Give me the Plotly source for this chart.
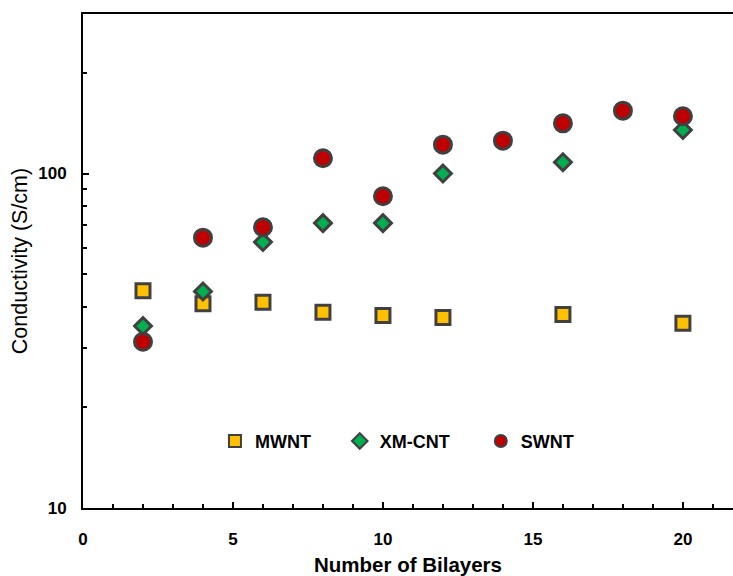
import plotly.graph_objects as go

x_mwnt = [2, 4, 6, 8, 10, 12, 16, 20]
y_mwnt = [44.6, 40.8, 41.2, 38.5, 37.6, 37.1, 37.9, 35.7]

x_xm = [2, 4, 6, 8, 10, 12, 16, 20]
y_xm = [35.0, 44.4, 62.4, 71.1, 71.1, 100.0, 108.1, 135.0]

x_sw = [2, 4, 6, 8, 10, 12, 14, 16, 18, 20]
y_sw = [31.4, 64.3, 69.1, 111.1, 85.5, 122.0, 125.4, 141.3, 154.2, 148.3]

edge = "#404040"
font_fam = "Arial, Liberation Sans, sans-serif"

fig = go.Figure()
fig.add_trace(go.Scatter(x=x_mwnt, y=y_mwnt, mode="markers", name="MWNT", legend="legend",
    marker=dict(symbol="square", size=14, color="#FFC000", line=dict(color=edge, width=3))))
fig.add_trace(go.Scatter(x=x_xm, y=y_xm, mode="markers", name="XM-CNT", legend="legend2",
    marker=dict(symbol="diamond", size=13, color="#00B050", line=dict(color=edge, width=3))))
fig.add_trace(go.Scatter(x=x_sw, y=y_sw, mode="markers", name="SWNT", legend="legend3",
    marker=dict(symbol="circle", size=17, color="#C00000", line=dict(color=edge, width=3))))

def leg(xpos):
    return dict(orientation="h", x=xpos, y=0.135, xanchor="left", yanchor="middle",
                font=dict(size=18, family=font_fam, weight="bold"),
                bgcolor="rgba(0,0,0,0)", itemclick=False, itemsizing="constant")

fig.update_layout(
    width=733, height=576,
    margin=dict(l=83, r=0, t=14, b=68),
    plot_bgcolor="white", paper_bgcolor="white",
    font=dict(family=font_fam, color="black"),
    showlegend=True,
    legend=leg(0.203),
    legend2=leg(0.395),
    legend3=leg(0.612),
    xaxis=dict(range=[0, 21.67], dtick=5, tick0=0, showline=True, linecolor="black", linewidth=2,
               mirror=True, ticks="inside", ticklen=6, tickwidth=1.5, tickcolor="black",
               minor=dict(dtick=1, ticks="inside", ticklen=4, tickwidth=1.5, tickcolor="black"),
               showgrid=False, zeroline=False, ticklabelstandoff=15,
               tickfont=dict(size=17, family=font_fam, weight="bold"),
               title=dict(text="Number of Bilayers", font=dict(size=20.5, family=font_fam, weight="bold"),
                          standoff=11)),
    yaxis=dict(type="log", range=[1, 2.477], dtick=1, showline=True, linecolor="black", linewidth=2,
               ticks="inside", ticklen=6, tickwidth=1.5, tickcolor="black",
               minor=dict(dtick="D1", ticks="inside", ticklen=4, tickwidth=1.5, tickcolor="black",
                          showgrid=False),
               showgrid=False, zeroline=False, ticklabelstandoff=11,
               tickfont=dict(size=17, family=font_fam, weight="bold"),
               title=dict(text="Conductivity (S/cm)", font=dict(size=21.5, family=font_fam),
                          standoff=5)),
)

fig.write_html("out.html")
